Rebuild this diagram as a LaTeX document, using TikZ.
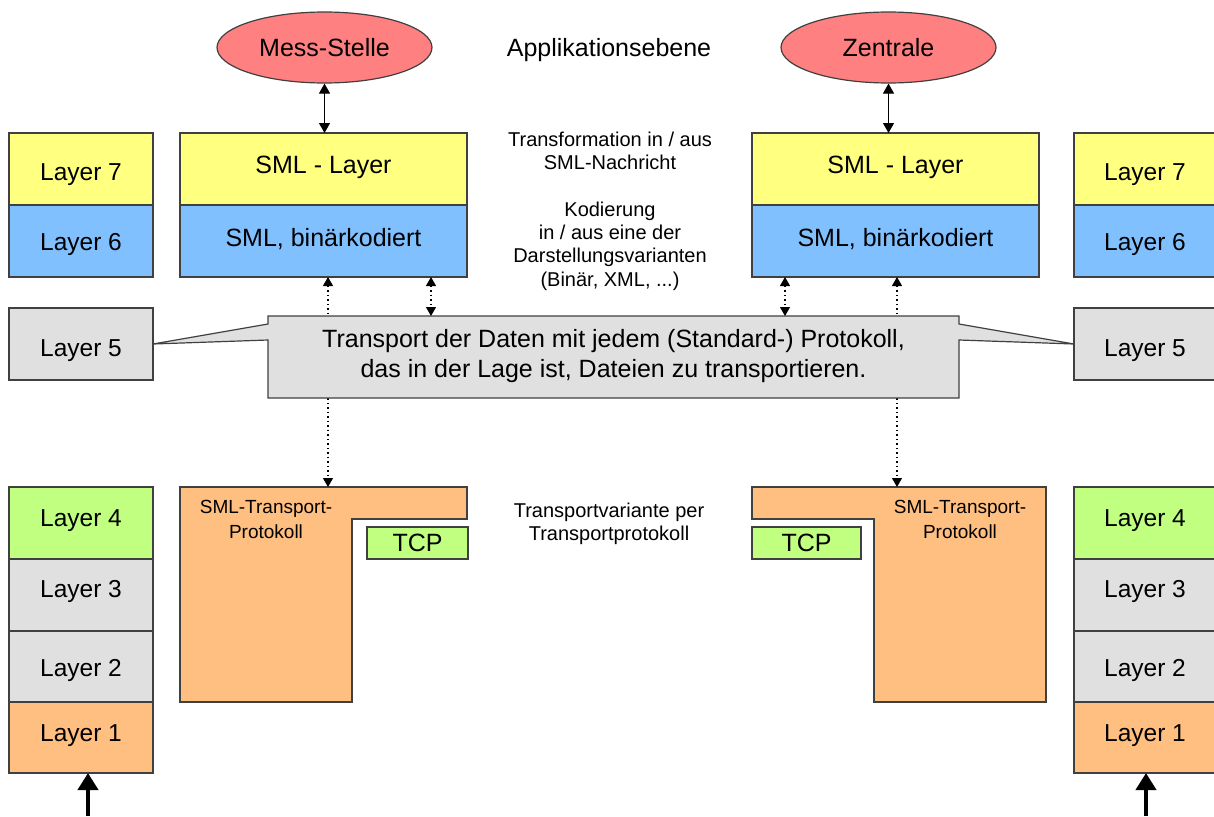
\documentclass[tikz,border=0pt]{standalone}
\usepackage{fontspec}
\setmainfont{Liberation Sans}
\usetikzlibrary{shapes.geometric,arrows.meta}
\definecolor{cred}{HTML}{FF8080}
\definecolor{cyel}{HTML}{FFFF80}
\definecolor{cblu}{HTML}{80C0FF}
\definecolor{cgry}{HTML}{E0E0E0}
\definecolor{cgrn}{HTML}{C0FF80}
\definecolor{corg}{HTML}{FFBF80}
\definecolor{cline}{HTML}{404040}
\begin{document}
\begin{tikzpicture}[x=1pt,y=-1pt,
  box/.style={draw=cline,line width=1.2pt,inner sep=0pt,outer sep=0pt,anchor=north west,
              minimum height=72pt,font=\fontsize{24.5}{28}\selectfont},
  lay/.style={box,minimum width=144pt,text depth=0pt},
  rlay/.style={box,minimum width=142pt,text depth=0pt},
  sml/.style={box,minimum width=287pt},
  ell/.style={ellipse,draw=cline,line width=1.2pt,fill=cred,minimum width=215pt,minimum height=71pt,
              inner sep=0pt,font=\fontsize{25}{28}\selectfont},
  txt/.style={inner sep=0pt,align=center},
  outl/.style={draw=cline,line width=1.2pt},
  arr/.style={line width=1.2pt,{Triangle[width=11pt,length=10pt]}-{Triangle[width=11pt,length=10pt]}},
  darr/.style={line width=1.2pt,dash pattern=on 1.3pt off 3.2pt,
               {Triangle[width=10pt,length=9pt]}-{Triangle[width=10pt,length=9pt]}},
  inarr/.style={line width=4pt,-{Triangle[width=20pt,length=17pt]}},
]
\useasboundingbox (0,0) rectangle (1214,816);

% application level
\node[ell] (mess) at (324.5,47.5) {Mess-Stelle};
\node[ell] (zent) at (888.5,47.5) {Zentrale};
\node[txt,font=\fontsize{25}{28}\selectfont] (appl) at (609,50.5) {Applikationsebene};

% left OSI stack
\node[lay,fill=cyel,text height=22pt] (l7a) at (9,133) {Layer 7};
\node[lay,fill=cblu,text height=18pt] (l6a) at (9,205) {Layer 6};
\node[lay,fill=cgry,text height=24pt] (l5a) at (9,308) {Layer 5};
\node[lay,fill=cgrn,text height=7pt] (l4a) at (9,487) {Layer 4};
\node[lay,fill=cgry,text height=4pt] (l3a) at (9,559) {Layer 3};
\node[lay,fill=cgry,text height=18pt] (l2a) at (9,631) {Layer 2};
\node[lay,fill=corg,minimum height=71pt,text height=7pt] (l1a) at (9,702) {Layer 1};

% right OSI stack
\node[rlay,fill=cyel,text height=22pt] (l7b) at (1074,133) {Layer 7};
\node[rlay,fill=cblu,text height=18pt] (l6b) at (1074,205) {Layer 6};
\node[rlay,fill=cgry,text height=24pt] (l5b) at (1074,308) {Layer 5};
\node[rlay,fill=cgrn,text height=7pt] (l4b) at (1074,487) {Layer 4};
\node[rlay,fill=cgry,text height=4pt] (l3b) at (1074,559) {Layer 3};
\node[rlay,fill=cgry,text height=18pt] (l2b) at (1074,631) {Layer 2};
\node[rlay,fill=corg,minimum height=71pt,text height=7pt] (l1b) at (1074,702) {Layer 1};

% SML boxes
\node[sml,fill=cyel] (smlA) at (180,133) {};
\node[sml,fill=cblu] (binA) at (180,205) {};
\node[sml,fill=cyel] (smlB) at (752,133) {};
\node[sml,fill=cblu] (binB) at (752,205) {};
\node[txt,font=\fontsize{25}{28}\selectfont] (smlAt) at (323.5,167) {SML - Layer};
\node[txt,font=\fontsize{25}{28}\selectfont] (binAt) at (323.5,239) {SML, binärkodiert};
\node[txt,font=\fontsize{25}{28}\selectfont] (smlBt) at (895.5,167) {SML - Layer};
\node[txt,font=\fontsize{25}{28}\selectfont] (binBt) at (895.5,239) {SML, binärkodiert};

% middle descriptions
\node[txt,font=\fontsize{20}{23}\selectfont] (trf) at (610,151) {Transformation in / aus\\SML-Nachricht};
\node[txt,font=\fontsize{20}{23.3}\selectfont] (kod) at (610,246) {Kodierung\\in / aus eine der\\Darstellungsvarianten\\(Binär, XML, ...)};
\node[txt,font=\fontsize{20}{23}\selectfont] (tvar) at (609,524) {Transportvariante per\\Transportprotokoll};

% transport protocol shapes
\coordinate (trAtop) at (328,487);
\coordinate (trBtop) at (897,487);
\draw[outl,fill=corg] (180,487) -- (467,487) -- (467,519) -- (352,519) -- (352,702) -- (180,702) -- cycle;
\draw[outl,fill=corg] (752,487) -- (1046,487) -- (1046,702) -- (874,702) -- (874,519) -- (752,519) -- cycle;
\node[txt,font=\fontsize{19}{25}\selectfont] (stpA) at (266,519) {SML-Transport-\\Protokoll};
\node[txt,font=\fontsize{19}{25}\selectfont] (stpB) at (960,519) {SML-Transport-\\Protokoll};
\node[box,fill=cgrn,minimum width=101pt,minimum height=32pt,font=\fontsize{25}{28}\selectfont] (tcpA) at (367,527) {TCP};
\node[box,fill=cgrn,minimum width=109pt,minimum height=32pt,font=\fontsize{25}{28}\selectfont] (tcpB) at (752,527) {TCP};

% long dotted connectors (pass behind the callout)
\draw[darr] (binA.south -| trAtop) -- (trAtop);
\draw[darr] (binB.south -| trBtop) -- (trBtop);

% callout
\draw[outl,fill=cgry] (268,316) -- (959,316) -- (959,324) -- (l5b.west) -- (959,340) -- (959,398)
  -- (268,398) -- (268,340) -- (l5a.east) -- (268,324) -- cycle;
\node[txt,font=\fontsize{25}{30}\selectfont] (callout) at (613.5,356) {Transport der Daten mit jedem (Standard-) Protokoll,\\das in der Lage ist, Dateien zu transportieren.};
\coordinate (cA) at (431,316);
\coordinate (cB) at (785,316);
\draw[darr] (binA.south -| cA) -- (cA);
\draw[darr] (binB.south -| cB) -- (cB);

% solid connectors
\draw[arr] (mess.south) -- (smlA.north -| mess.south);
\draw[arr] (zent.south) -- (smlB.north -| zent.south);

% inputs
\coordinate (inA) at (88,816);
\coordinate (inB) at (1146,816);
\draw[inarr] (inA) -- (l1a.south -| inA);
\draw[inarr] (inB) -- (l1b.south -| inB);
\end{tikzpicture}
\end{document}
